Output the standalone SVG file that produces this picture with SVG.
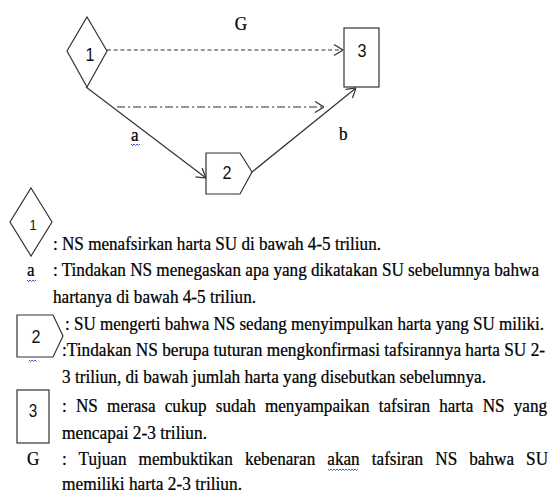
<svg xmlns="http://www.w3.org/2000/svg" width="551" height="497" viewBox="0 0 551 497">
<style>
.shape{fill:#fff;stroke:#333;stroke-width:1.2}
.conn{fill:none;stroke:#333;stroke-width:1.2}
.t{font-family:"Liberation Serif","Times New Roman",serif;font-size:19px;fill:#000;stroke:#000;stroke-width:0.25}
.d{font-family:"Liberation Sans",Arial,sans-serif;fill:#111;text-anchor:middle}
.sq{fill:none;stroke:#3a5bd9;stroke-width:1}
</style>
<defs>
<marker id="arr" viewBox="0 0 10 12" refX="10" refY="6" markerWidth="10" markerHeight="12" markerUnits="userSpaceOnUse" orient="auto">
<path d="M1,0.5 L10,6 L1,11.5" fill="none" stroke="#333" stroke-width="1.2"/>
</marker>
</defs>
<text class="t" transform="translate(241,30) scale(0.9 1)" text-anchor="middle">G</text>
<g id="connectors">
<line class="conn" x1="107" y1="50" x2="343" y2="50" stroke-dasharray="4 2.7" marker-end="url(#arr)"/>
<line class="conn" x1="117" y1="107" x2="324" y2="107" stroke-dasharray="8 3 2 3" marker-end="url(#arr)"/>
<line class="conn" x1="86" y1="87" x2="206" y2="178" marker-end="url(#arr)"/>
<line class="conn" x1="252" y1="172" x2="356" y2="88" marker-end="url(#arr)"/>
<text class="t" transform="translate(131,141) scale(0.9 1)">a</text>
<path class="sq" d="M131,144 l1.5,1.5 l1.5,-1.5 l1.5,1.5 l1.5,-1.5 l1.5,1.5 l1.5,-1.5"/>
<text class="t" transform="translate(339,140) scale(0.9 1)">b</text>
</g>
<g id="node1">
<polygon class="shape" points="87,17 107,51 87,87 67,51"/>
<text class="d" transform="translate(90,61) scale(0.85 1)" font-size="19">1</text>
</g>
<g id="node2">
<polygon class="shape" points="206,153 240,153 252,172 240,194 206,194"/>
<text class="d" transform="translate(227,179) scale(0.85 1)" font-size="19">2</text>
</g>
<g id="node3">
<rect class="shape" x="344" y="28" width="35" height="59"/>
<text class="d" transform="translate(362,57) scale(0.85 1)" font-size="19">3</text>
</g>
<g id="legend">
<polygon class="shape" points="31,188 52,222 31,256 10,222"/>
<text class="d" transform="translate(33,230) scale(0.85 1)" font-size="15">1</text>
<text class="t" transform="translate(53,250) scale(0.9 1)" textLength="364.4" lengthAdjust="spacingAndGlyphs">: NS menafsirkan harta SU di bawah 4-5 triliun.</text>
<text class="t" transform="translate(27,276) scale(0.9 1)">a</text>
<path class="sq" d="M27,280 l1.5,1.5 l1.5,-1.5 l1.5,1.5 l1.5,-1.5 l1.5,1.5 l1.5,-1.5"/>
<text class="t" transform="translate(53,276) scale(0.9 1)" textLength="540" lengthAdjust="spacingAndGlyphs">: Tindakan NS menegaskan apa yang dikatakan SU sebelumnya bahwa</text>
<text class="t" transform="translate(53,303) scale(0.9 1)" textLength="225.6" lengthAdjust="spacingAndGlyphs">hartanya di bawah 4-5 triliun.</text>
<polygon class="shape" points="17,315 53,315 63,336 53,357 17,357"/>
<text class="d" transform="translate(36,343) scale(0.85 1)" font-size="19">2</text>
<path class="sq" d="M29,360 l1.5,1.5 l1.5,-1.5 l1.5,1.5 l1.5,-1.5 l1.5,1.5"/>
<text class="t" transform="translate(65,330) scale(0.9 1)" textLength="532.2" lengthAdjust="spacingAndGlyphs">: SU mengerti bahwa NS sedang menyimpulkan harta yang SU miliki.</text>
<text class="t" transform="translate(62,356) scale(0.9 1)" textLength="536.7" lengthAdjust="spacingAndGlyphs">:Tindakan NS berupa tuturan mengkonfirmasi tafsirannya harta SU 2-</text>
<text class="t" transform="translate(62,383) scale(0.9 1)" textLength="471.1" lengthAdjust="spacingAndGlyphs">3 triliun, di bawah jumlah harta yang disebutkan sebelumnya.</text>
<rect class="shape" x="17" y="390" width="32" height="53"/>
<text class="d" transform="translate(33,417) scale(0.85 1)" font-size="18">3</text>
<text class="t" transform="translate(62,412) scale(0.9 1)" textLength="538.9" lengthAdjust="spacingAndGlyphs" word-spacing="5.5">: NS merasa cukup sudah menyampaikan tafsiran harta NS yang</text>
<text class="t" transform="translate(62,439) scale(0.9 1)" textLength="161.1" lengthAdjust="spacingAndGlyphs">mencapai 2-3 triliun.</text>
<text class="t" transform="translate(27,465) scale(0.9 1)">G</text>
<text class="t" transform="translate(62,465) scale(0.9 1)" textLength="540" lengthAdjust="spacingAndGlyphs" word-spacing="8.7">: Tujuan membuktikan kebenaran akan tafsiran NS bahwa SU</text>
<path class="sq" d="M328,469 l1.5,1.5 l1.5,-1.5 l1.5,1.5 l1.5,-1.5 l1.5,1.5 l1.5,-1.5 l1.5,1.5 l1.5,-1.5 l1.5,1.5 l1.5,-1.5 l1.5,1.5 l1.5,-1.5 l1.5,1.5 l1.5,-1.5 l1.5,1.5 l1.5,-1.5 l1.5,1.5 l1.5,-1.5 l1.5,1.5 l1.5,-1.5"/>
<text class="t" transform="translate(62,490) scale(0.9 1)" textLength="200" lengthAdjust="spacingAndGlyphs">memiliki harta 2-3 triliun.</text>
</g>
</svg>
